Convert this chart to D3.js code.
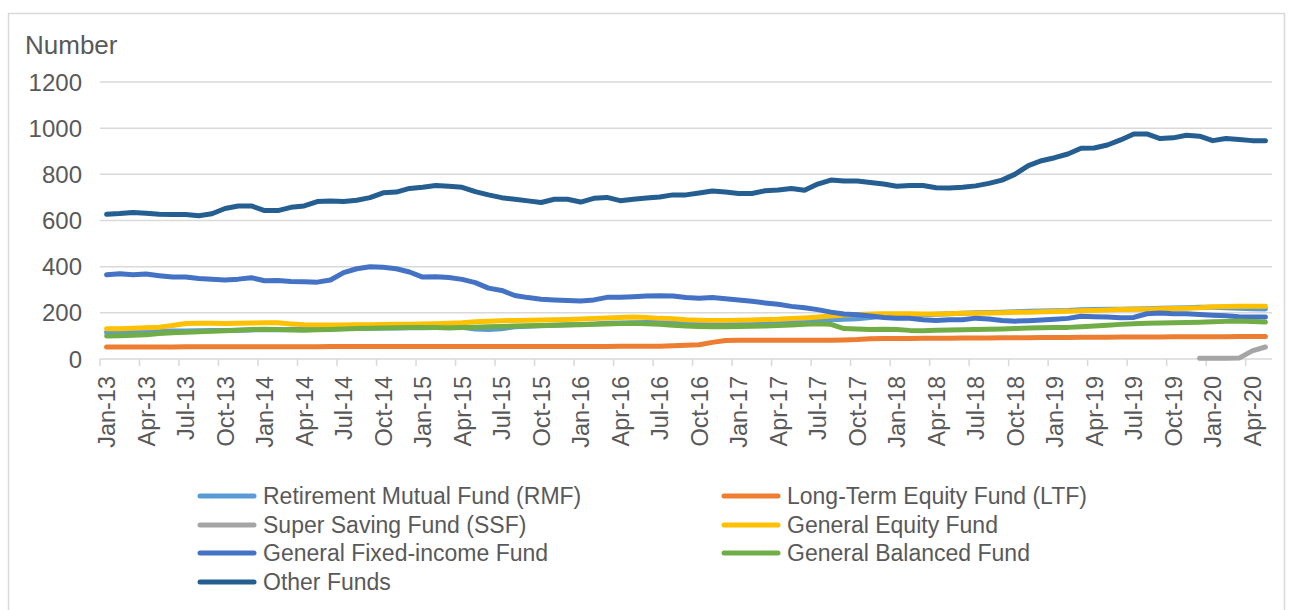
<!DOCTYPE html>
<html>
<head>
<meta charset="utf-8">
<script src="https://cdn.jsdelivr.net/npm/d3@7"></script>
<style>
  body { margin: 0; background: #fff; }
  svg text { font-family: "Liberation Sans", Arial, sans-serif; fill: #595959; }
</style>
</head>
<body>
<div id="chart"></div>
<script>
// -----------------------
// Data (monthly, Jan-13 .. May-20)
// -----------------------
const monthAbbr = ["Jan", "Feb", "Mar", "Apr", "May", "Jun", "Jul", "Aug", "Sep", "Oct", "Nov", "Dec"];
const years = ["13", "14", "15", "16", "17", "18", "19", "20"];
const months = [];
years.forEach(y => monthAbbr.forEach(m => months.push(`${m}-${y}`)));
months.splice(89); // last month is May-20

const yTicks = [0, 200, 400, 600, 800, 1000, 1200];

const rmf = [
  116, 116, 118, 119, 120, 121, 121, 122, 123, 124, 125, 126,
  127, 127, 128, 129, 130, 131, 132, 133, 133, 134, 134, 135,
  135, 136, 136, 137, 130, 128, 131, 140, 142, 144, 146, 148,
  150, 152, 155, 156, 157, 158, 158, 158, 157, 156, 156, 157,
  158, 160, 162, 163, 164, 166, 168, 170, 172, 174, 180, 186,
  188, 190, 192, 194, 196, 198, 200, 201, 203, 205, 207, 208,
  209, 210, 213, 214, 215, 216, 217, 218, 220, 221, 222, 224,
  224, 222, 220, 218, 217
];
const ltf = [
  52, 52, 52, 52, 52, 52, 53, 53, 53, 53, 53, 53,
  53, 53, 53, 53, 53, 54, 54, 54, 54, 54, 54, 54,
  54, 54, 54, 54, 54, 54, 54, 54, 54, 54, 54, 54,
  54, 54, 54, 55, 55, 55, 55, 57, 60, 62, 72, 80,
  81, 81, 81, 81, 81, 81, 81, 81, 82, 84, 88, 89,
  89, 89, 90, 90, 90, 91, 91, 91, 92, 92, 92, 93,
  93, 93, 94, 94, 94, 95, 95, 95, 95, 96, 96, 96,
  96, 96, 97, 97, 97
];
const ssf = [
  null, null, null, null, null, null, null, null, null, null, null, null,
  null, null, null, null, null, null, null, null, null, null, null, null,
  null, null, null, null, null, null, null, null, null, null, null, null,
  null, null, null, null, null, null, null, null, null, null, null, null,
  null, null, null, null, null, null, null, null, null, null, null, null,
  null, null, null, null, null, null, null, null, null, null, null, null,
  null, null, null, null, null, null, null, null, null, null, null, 3,
  3, 3, 4, 35, 52
];
const equity = [
  131, 131, 133, 135, 138, 145, 154, 155, 155, 154, 155, 156,
  157, 157, 152, 148, 147, 147, 147, 148, 148, 150, 151, 151,
  152, 153, 155, 157, 161, 164, 166, 167, 168, 169, 170, 171,
  173, 175, 178, 180, 182, 180, 176, 174, 170, 168, 167, 167,
  168, 169, 171, 172, 175, 178, 182, 186, 191, 193, 195, 196,
  196, 196, 195, 195, 196, 198, 198, 199, 200, 202, 203, 205,
  206, 207, 209, 210, 212, 214, 215, 216, 218, 219, 220, 222,
  226, 227, 228, 229, 229
];
const fixedIncome = [
  365, 369, 365, 368, 361, 355, 355, 349, 345, 342, 346, 352,
  339, 340, 336, 335, 333, 342, 374, 391, 400, 397, 391, 377,
  355, 356, 353, 345, 331, 307, 297, 275, 266, 259, 256, 253,
  251, 256, 267, 267, 270, 273, 274, 273, 266, 263, 266, 261,
  256, 250, 243, 237, 228, 222, 214, 203, 195, 192, 186, 180,
  177, 176, 170, 167, 170, 170, 177, 173, 167, 164, 166, 169,
  172, 176, 185, 183, 182, 179, 180, 196, 199, 196, 196, 193,
  190, 187, 183, 182, 182
];
const balanced = [
  100, 101, 103, 105, 110, 114, 116, 118, 120, 122, 125, 128,
  129, 128, 126, 125, 127, 128, 130, 132, 133, 134, 135, 136,
  137, 136, 134, 136, 138, 140, 141, 143, 144, 145, 146, 147,
  148, 150, 152, 154, 155, 153, 150, 146, 143, 141, 140, 140,
  141, 142, 143, 145, 147, 150, 153, 150, 132, 130, 128, 129,
  128, 124, 122, 125, 126, 127, 128, 129, 130, 132, 134, 135,
  136, 137, 140, 143, 146, 150, 153, 155, 156, 157, 158, 159,
  161, 163, 165, 162, 160
];
const otherFunds = [
  627, 630, 635, 631, 627, 626, 626, 621, 629, 652, 663, 663,
  643, 643, 657, 663, 682, 685, 682, 688, 699, 720, 723, 739,
  744, 752, 748, 744, 725, 711, 699, 692, 685, 678, 692, 692,
  680, 696, 700, 686, 692, 697, 702, 711, 711, 719, 728, 723,
  717, 717, 729, 732, 739, 731, 758, 775, 771, 771, 765, 758,
  748, 752, 752, 742, 741, 744, 750, 761, 775, 801, 838, 859,
  872, 888, 913, 914, 927, 949, 975, 975, 955, 958, 969, 965,
  946, 955, 951, 946, 946
];

const seriesNames = [
  "Retirement Mutual Fund (RMF)", "Long-Term Equity Fund (LTF)",
  "Super Saving Fund (SSF)", "General Equity Fund",
  "General Fixed-income Fund", "General Balanced Fund", "Other Funds"
];
const seriesValues = [rmf, ltf, ssf, equity, fixedIncome, balanced, otherFunds];
const seriesColors = ["#5B9BD5", "#ED7D31", "#A5A5A5", "#FFC000", "#4472C4", "#70AD47", "#255E91"];

// -----------------------
// Chart
// -----------------------
const width = 1292, height = 610;
const plot = { left: 100, right: 1272, top: 82, bottom: 359 };

const svg = d3.select("#chart").append("svg")
  .attr("width", width)
  .attr("height", height);

// outer frame
svg.append("rect")
  .attr("x", 8.5).attr("y", 13.5)
  .attr("width", 1276).attr("height", 640)
  .attr("fill", "none")
  .attr("stroke", "#D9D9D9")
  .attr("stroke-width", 1.5);

const x = d3.scaleBand()
  .domain(months)
  .range([plot.left, plot.right])
  .padding(0);

const y = d3.scaleLinear()
  .domain([0, 1200])
  .range([plot.bottom, plot.top]);

// gridlines + y labels
svg.append("g")
  .selectAll("line")
  .data(yTicks)
  .join("line")
  .attr("x1", plot.left).attr("x2", plot.right)
  .attr("y1", d => y(d)).attr("y2", d => y(d))
  .attr("stroke", "#D9D9D9")
  .attr("stroke-width", 1.5);

svg.append("g")
  .selectAll("text")
  .data(yTicks)
  .join("text")
  .attr("x", 82)
  .attr("y", d => y(d))
  .attr("dy", "0.36em")
  .attr("text-anchor", "end")
  .style("font-size", "24px")
  .text(d => d);

svg.append("text")
  .attr("x", 25).attr("y", 54)
  .style("font-size", "26px")
  .text("Number");

// x tick marks (every 3 months, at the category edge)
const tickMonths = months.filter((m, i) => i % 3 === 0);
svg.append("g")
  .selectAll("line")
  .data(tickMonths)
  .join("line")
  .attr("x1", d => x(d)).attr("x2", d => x(d))
  .attr("y1", plot.bottom).attr("y2", plot.bottom + 7)
  .attr("stroke", "#D9D9D9")
  .attr("stroke-width", 1.5);

// x labels, rotated
svg.append("g")
  .selectAll("text")
  .data(tickMonths)
  .join("text")
  .attr("transform", d => `translate(${x(d) + x.bandwidth() / 2},${plot.bottom + 17}) rotate(-90)`)
  .attr("dy", "0.36em")
  .attr("text-anchor", "end")
  .style("font-size", "23.5px")
  .text(d => d);

// lines
const line = d3.line()
  .defined(d => d.v !== null)
  .x(d => x(d.m) + x.bandwidth() / 2)
  .y(d => y(d.v));

seriesValues.forEach((vals, k) => {
  const pts = months.map((m, i) => ({ m, v: vals[i] }));
  svg.append("path")
    .datum(pts)
    .attr("d", line)
    .attr("fill", "none")
    .attr("stroke", seriesColors[k])
    .attr("stroke-width", 5)
    .attr("stroke-linejoin", "round")
    .attr("stroke-linecap", "round");
});

// legend
const legendCols = [198, 722];
const legendRows = [496, 525, 553, 582];
const legend = svg.append("g")
  .selectAll("g")
  .data(seriesNames)
  .join("g")
  .attr("transform", (d, i) => `translate(${legendCols[i % 2]},${legendRows[Math.floor(i / 2)]})`);

legend.append("line")
  .attr("x1", 2).attr("x2", 56)
  .attr("stroke", (d, i) => seriesColors[i])
  .attr("stroke-width", 5)
  .attr("stroke-linecap", "round");

legend.append("text")
  .attr("x", 65)
  .attr("dy", "0.36em")
  .style("font-size", "23px")
  .text(d => d);
</script>
</body>
</html>
